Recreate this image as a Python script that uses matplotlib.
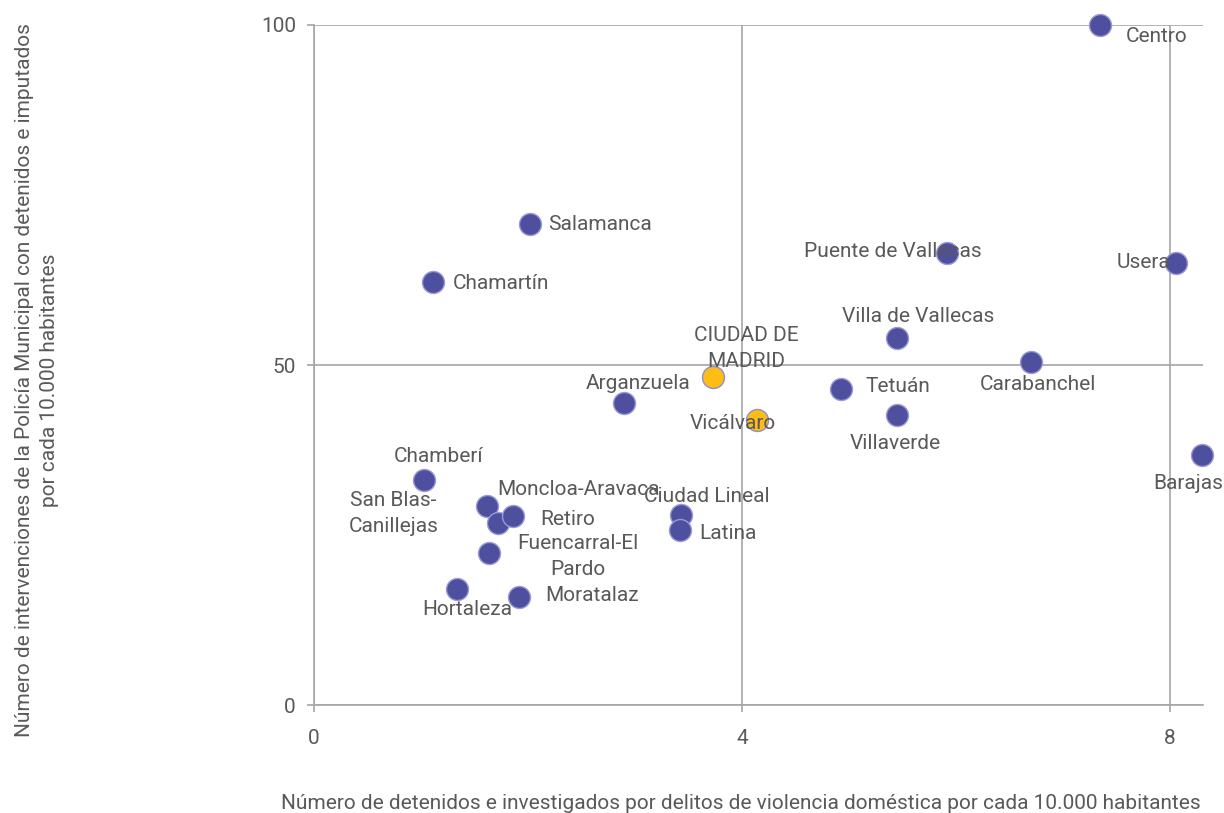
import matplotlib
matplotlib.use("Agg")
import matplotlib.pyplot as plt

plt.rcParams['font.family'] = ['Roboto', 'DejaVu Sans']

districts = ["Centro", "Usera", "Barajas", "Puente de Vallecas", "Villa de Vallecas",
             "Carabanchel", "Tetuán", "Villaverde", "Arganzuela", "Salamanca",
             "Chamartín", "Chamberí", "San Blas-\nCanillejas", "Moncloa-Aravaca", "Retiro",
             "Fuencarral-El\nPardo", "Hortaleza", "Moratalaz", "Ciudad Lineal", "Latina"]
x_vals = [7.35, 8.06, 8.30, 5.92, 5.45, 6.70, 4.93, 5.45, 2.90, 2.02,
          1.115, 1.03, 1.62, 1.72, 1.86, 1.64, 1.34, 1.92, 3.43, 3.42]
y_vals = [100.0, 65.0, 36.7, 66.4, 54.0, 50.4, 46.5, 42.7, 44.4, 70.8,
          62.2, 33.1, 29.2, 26.7, 27.8, 22.3, 17.1, 15.9, 27.9, 25.7]

highlight = ["CIUDAD DE\nMADRID", "Vicálvaro"]
hx_vals = [3.73, 4.14]
hy_vals = [48.2, 41.9]

x_ticks = [0, 4, 8]
y_ticks = [0, 50, 100]

# label offsets in pixels (dx, dy, ha)
offsets = {
    "Centro": (25, -11, "left"),
    "Usera": (-6, 0, "right"),
    "Barajas": (-14, -28, "center"),
    "Puente de Vallecas": (-55, 2, "center"),
    "Villa de Vallecas": (21, 21, "center"),
    "Carabanchel": (7, -22, "center"),
    "Tetuán": (24, 2, "left"),
    "Villaverde": (-2, -29, "center"),
    "Arganzuela": (14, 20, "center"),
    "Salamanca": (18, -1, "left"),
    "Chamartín": (19, -1, "left"),
    "Chamberí": (14, 23, "center"),
    "San Blas-\nCanillejas": (-94, -7, "center"),
    "Moncloa-Aravaca": (80, 34, "center"),
    "Retiro": (27, -4, "left"),
    "Fuencarral-El\nPardo": (88, -3, "center"),
    "Hortaleza": (10, -21, "center"),
    "Moratalaz": (26, 1, "left"),
    "Ciudad Lineal": (26, 19, "center"),
    "Latina": (19, -3, "left"),
    "CIUDAD DE\nMADRID": (33, 29, "center"),
    "Vicálvaro": (-24, -3, "center"),
}

text_color = "#595959"
grid_color = "#a6a6a6"
fs = 15

fig = plt.figure(figsize=(12.24, 8.13), dpi=100)
ax = fig.add_axes([314/1224, 1-705/813, (1203-314)/1224, (705-25)/813])

ax.set_xlim(0, 8.31)
ax.set_ylim(0, 100)
ax.set_xticks(x_ticks)
ax.set_yticks(y_ticks)
ax.grid(True, color=grid_color, linewidth=1.2, zorder=0)
ax.set_axisbelow(True)
for s in ["top", "right"]:
    ax.spines[s].set_visible(False)
for s in ["left", "bottom"]:
    ax.spines[s].set_color(grid_color)
    ax.spines[s].set_linewidth(1.2)
ax.tick_params(axis="both", colors=grid_color, length=5, width=1.2,
               labelcolor=text_color, labelsize=fs)
ax.tick_params(axis="x", pad=12)
ax.tick_params(axis="y", pad=8)

ax.scatter(x_vals, y_vals, s=250, color="#4f4fa0", edgecolors="#9a9ad6",
           linewidths=1.0, zorder=3, clip_on=False)
ax.scatter(hx_vals, hy_vals, s=250, color="#fdbd16", edgecolors="#8f8fcf",
           linewidths=1.0, zorder=3, clip_on=False)

for name, xv, yv in list(zip(districts, x_vals, y_vals)) + list(zip(highlight, hx_vals, hy_vals)):
    dx, dy, ha = offsets[name]
    ax.annotate(name, (xv, yv), xytext=(dx, dy), textcoords="offset pixels",
                ha=ha, va="center", fontsize=fs, color=text_color,
                multialignment="center", linespacing=1.45, zorder=4,
                annotation_clip=False)

fig.text(741/1224, 1-803/813,
         "Número de detenidos e investigados por delitos de violencia doméstica por cada 10.000 habitantes",
         ha="center", va="center", fontsize=fs, color=text_color)
fig.text(37/1224, 1-380/813,
         "Número de intervenciones de la Policía Municipal con detenidos e imputados\npor cada 10.000 habitantes",
         ha="center", va="center", rotation=90, fontsize=fs, color=text_color,
         multialignment="center", linespacing=1.35)

fig.savefig("out.png", dpi=100)
